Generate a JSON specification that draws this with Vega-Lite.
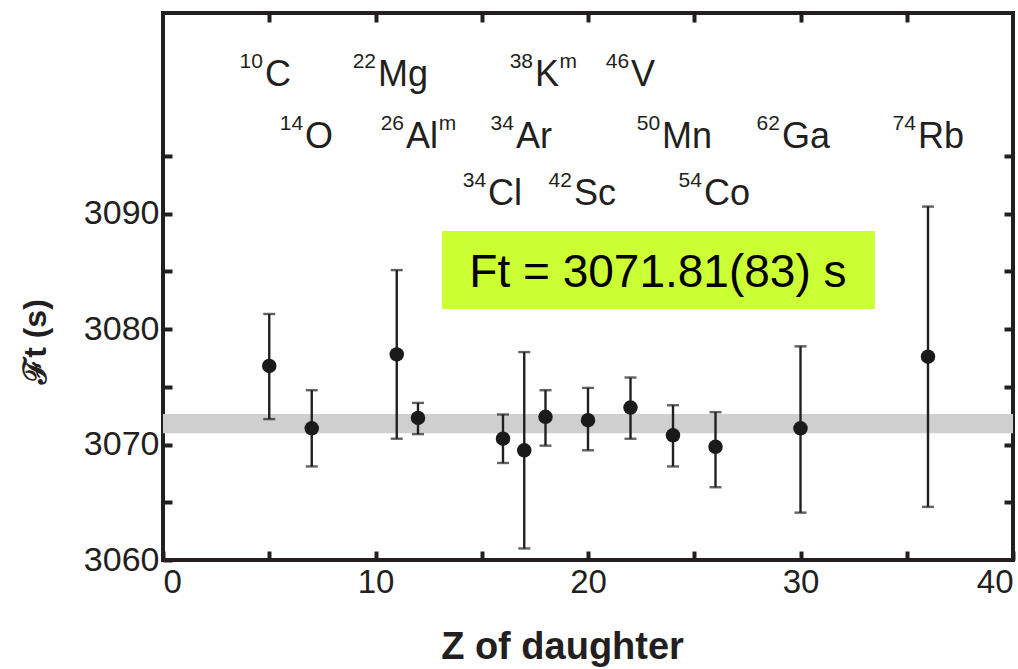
{
  "$schema": "https://vega.github.io/schema/vega-lite/v6.json",
  "width": 850,
  "height": 547,
  "autosize": {"type": "none"},
  "padding": {"left": 163, "top": 13, "right": 5, "bottom": 109},
  "background": "white",
  "config": {
    "view": {"stroke": "#231f20", "strokeWidth": 4},
    "font": "Liberation Sans",
    "axis": {
      "domain": false,
      "grid": false,
      "tickColor": "#231f20",
      "tickWidth": 4,
      "tickSize": -9,
      "labelColor": "#231f20",
      "labelFont": "Liberation Sans",
      "titleColor": "#231f20",
      "titleFont": "Liberation Sans"
    }
  },
  "datasets": {
    "pts": [
      {"Z": 5, "Ft": 3076.8, "lo": 3072.2, "hi": 3081.3},
      {"Z": 7, "Ft": 3071.4, "lo": 3068.1, "hi": 3074.7},
      {"Z": 11, "Ft": 3077.8, "lo": 3070.5, "hi": 3085.1},
      {"Z": 12, "Ft": 3072.3, "lo": 3070.9, "hi": 3073.6},
      {"Z": 16, "Ft": 3070.5, "lo": 3068.4, "hi": 3072.6},
      {"Z": 17, "Ft": 3069.5, "lo": 3061.0, "hi": 3078.0},
      {"Z": 18, "Ft": 3072.4, "lo": 3069.9, "hi": 3074.7},
      {"Z": 20, "Ft": 3072.1, "lo": 3069.5, "hi": 3074.9},
      {"Z": 22, "Ft": 3073.2, "lo": 3070.5, "hi": 3075.8},
      {"Z": 24, "Ft": 3070.8, "lo": 3068.1, "hi": 3073.4},
      {"Z": 26, "Ft": 3069.8, "lo": 3066.3, "hi": 3072.8},
      {"Z": 30, "Ft": 3071.4, "lo": 3064.1, "hi": 3078.5},
      {"Z": 36, "Ft": 3077.6, "lo": 3064.6, "hi": 3090.6}
    ],
    "band": [{"lo": 3070.98, "hi": 3072.64}],
    "box": [{"x1": 13.13, "x2": 33.5, "y1": 3081.73, "y2": 3088.48, "xc": 23.29, "yb": 3083.64, "label": "Ft = 3071.81(83) s"}],
    "nuc": [
      {"x": 4.75, "y": 3101.0, "A": "10", "sym": "C"},
      {"x": 10.07, "y": 3101.0, "A": "22", "sym": "Mg"},
      {"x": 17.46, "y": 3101.0, "A": "38", "sym": "K", "iso": "m", "isoX": 18.66},
      {"x": 21.98, "y": 3101.0, "A": "46", "sym": "V"},
      {"x": 6.64, "y": 3095.7, "A": "14", "sym": "O"},
      {"x": 11.39, "y": 3095.7, "A": "26", "sym": "Al", "iso": "m", "isoX": 12.98},
      {"x": 16.56, "y": 3095.7, "A": "34", "sym": "Ar"},
      {"x": 23.44, "y": 3095.7, "A": "50", "sym": "Mn"},
      {"x": 29.08, "y": 3095.7, "A": "62", "sym": "Ga"},
      {"x": 35.48, "y": 3095.7, "A": "74", "sym": "Rb"},
      {"x": 15.25, "y": 3090.7, "A": "34", "sym": "Cl"},
      {"x": 19.29, "y": 3090.7, "A": "42", "sym": "Sc"},
      {"x": 25.41, "y": 3090.7, "A": "54", "sym": "Co"}
    ]
  },
  "layer": [
    {
      "data": {"name": "band"},
      "mark": {"type": "rect", "color": "#cfcfcf"},
      "encoding": {
        "y": {"field": "lo", "type": "quantitative", "scale": {"domain": [3060, 3107.36], "nice": false, "zero": false}, "axis": null},
        "y2": {"field": "hi"}
      }
    },
    {
      "data": {"name": "box"},
      "mark": {"type": "rect", "color": "#ccff33"},
      "encoding": {
        "x": {"field": "x1", "type": "quantitative", "scale": {"domain": [0, 40], "nice": false, "zero": false}, "axis": null},
        "x2": {"field": "x2"},
        "y": {"field": "y1", "type": "quantitative", "scale": {"domain": [3060, 3107.36], "nice": false, "zero": false}, "axis": null},
        "y2": {"field": "y2"}
      }
    },
    {
      "data": {"name": "box"},
      "mark": {"type": "text", "fontSize": 46, "align": "center", "baseline": "alphabetic", "color": "#000000", "font": "Liberation Sans"},
      "encoding": {
        "x": {"field": "xc", "type": "quantitative", "scale": {"domain": [0, 40], "nice": false, "zero": false}, "axis": null},
        "y": {"field": "yb", "type": "quantitative", "scale": {"domain": [3060, 3107.36], "nice": false, "zero": false}, "axis": null},
        "text": {"field": "label"}
      }
    },
    {
      "data": {"name": "pts"},
      "mark": {"type": "rule", "color": "#231f20", "strokeWidth": 2.4},
      "encoding": {
        "x": {"field": "Z", "type": "quantitative", "scale": {"domain": [0, 40], "nice": false, "zero": false},
          "axis": {"orient": "bottom", "values": [0, 5, 10, 15, 20, 25, 30, 35, 40], "format": "d", "labelExpr": "datum.value % 10 === 0 ? datum.label : ''", "labelFontSize": 33, "labelPadding": 15, "title": "Z of daughter", "titleFontSize": 38, "titleFontWeight": "bold", "titleX": 399, "titleY": 98, "titleBaseline": "alphabetic", "titleAlign": "center"}},
        "y": {"field": "lo", "type": "quantitative", "scale": {"domain": [3060, 3107.36], "nice": false, "zero": false},
          "axis": {"orient": "left", "values": [3060, 3065, 3070, 3075, 3080, 3085, 3090, 3095], "format": "d", "labelExpr": "datum.value % 10 === 0 ? datum.label : ''", "labelFontSize": 34, "labelPadding": 13, "title": "ℱt (s)", "titleFontSize": 32, "titleFontWeight": "bold", "titleX": -128, "titleY": 328, "titleAngle": -90, "titleAlign": "center", "titleBaseline": "middle"}},
        "y2": {"field": "hi"}
      }
    },
    {
      "data": {"name": "pts"},
      "mark": {"type": "tick", "color": "#231f20", "orient": "horizontal", "size": 12, "thickness": 2.4},
      "encoding": {
        "x": {"field": "Z", "type": "quantitative", "scale": {"domain": [0, 40], "nice": false, "zero": false},
          "axis": {"orient": "top", "values": [5, 10, 15, 20, 25, 30, 35], "labels": false, "title": null}},
        "y": {"field": "lo", "type": "quantitative", "scale": {"domain": [3060, 3107.36], "nice": false, "zero": false},
          "axis": {"orient": "right", "values": [3065, 3070, 3075, 3080, 3085, 3090, 3095], "labels": false, "title": null}}
      }
    },
    {
      "data": {"name": "pts"},
      "mark": {"type": "tick", "color": "#231f20", "orient": "horizontal", "size": 12, "thickness": 2.4},
      "encoding": {
        "x": {"field": "Z", "type": "quantitative", "scale": {"domain": [0, 40], "nice": false, "zero": false}, "axis": null},
        "y": {"field": "hi", "type": "quantitative", "scale": {"domain": [3060, 3107.36], "nice": false, "zero": false}, "axis": null}
      }
    },
    {
      "data": {"name": "pts"},
      "mark": {"type": "point", "shape": "circle", "filled": true, "size": 210, "color": "#1a1a1a", "opacity": 1},
      "encoding": {
        "x": {"field": "Z", "type": "quantitative", "scale": {"domain": [0, 40], "nice": false, "zero": false}, "axis": null},
        "y": {"field": "Ft", "type": "quantitative", "scale": {"domain": [3060, 3107.36], "nice": false, "zero": false}, "axis": null}
      }
    },
    {
      "data": {"name": "nuc"},
      "mark": {"type": "text", "fontSize": 21, "align": "right", "baseline": "alphabetic", "dx": -1, "dy": -18, "color": "#231f20", "font": "Liberation Sans"},
      "encoding": {
        "x": {"field": "x", "type": "quantitative", "scale": {"domain": [0, 40], "nice": false, "zero": false}, "axis": null},
        "y": {"field": "y", "type": "quantitative", "scale": {"domain": [3060, 3107.36], "nice": false, "zero": false}, "axis": null},
        "text": {"field": "A"}
      }
    },
    {
      "data": {"name": "nuc"},
      "mark": {"type": "text", "fontSize": 36, "align": "left", "baseline": "alphabetic", "dx": 1, "color": "#231f20", "font": "Liberation Sans"},
      "encoding": {
        "x": {"field": "x", "type": "quantitative", "scale": {"domain": [0, 40], "nice": false, "zero": false}, "axis": null},
        "y": {"field": "y", "type": "quantitative", "scale": {"domain": [3060, 3107.36], "nice": false, "zero": false}, "axis": null},
        "text": {"field": "sym"}
      }
    },
    {
      "data": {"name": "nuc"},
      "transform": [{"filter": "datum.iso != null"}],
      "mark": {"type": "text", "fontSize": 21, "align": "left", "baseline": "alphabetic", "dy": -18, "color": "#231f20", "font": "Liberation Sans"},
      "encoding": {
        "x": {"field": "isoX", "type": "quantitative", "scale": {"domain": [0, 40], "nice": false, "zero": false}, "axis": null},
        "y": {"field": "y", "type": "quantitative", "scale": {"domain": [3060, 3107.36], "nice": false, "zero": false}, "axis": null},
        "text": {"field": "iso"}
      }
    }
  ],
  "resolve": {"axis": {"x": "independent", "y": "independent"}}
}
